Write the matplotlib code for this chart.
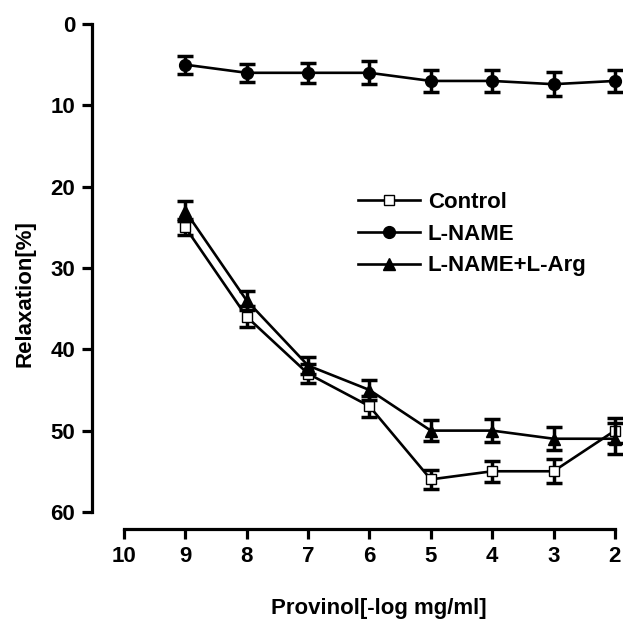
import numpy as np
import matplotlib
matplotlib.use("Agg")
import matplotlib.pyplot as plt

plt.rcParams['font.family'] = ['Liberation Sans', 'DejaVu Sans']
plt.rcParams['font.weight'] = 'bold'

dose = [9, 8, 7, 6, 5, 4, 3, 2]
control = [25, 36, 43, 47, 56, 55, 55, 50]
control_err = [1.0, 1.3, 1.2, 1.3, 1.2, 1.3, 1.5, 1.5]
lname = [5, 6, 6, 6, 7, 7, 7.4, 7]
lname_err = [1.1, 1.1, 1.2, 1.4, 1.3, 1.4, 1.5, 1.3]
larg = [23, 34, 42, 45, 50, 50, 51, 51]
larg_err = [1.2, 1.2, 1.1, 1.2, 1.3, 1.4, 1.4, 1.9]

x_ticks = [10, 9, 8, 7, 6, 5, 4, 3, 2]
y_ticks = [0, 10, 20, 30, 40, 50, 60]

fig = plt.figure(figsize=(6.23, 6.19), dpi=100)
ax = fig.add_axes([0.1477, 0.1454, 0.8393, 0.8158])

series = [
    (control, control_err, 's', 'white', 7, 'Control'),
    (lname, lname_err, 'o', 'black', 8.5, 'L-NAME'),
    (larg, larg_err, '^', 'black', 9, 'L-NAME+L-Arg'),
]
handles = []
for vals, err, mk, fc, ms, lab in series:
    ax.errorbar(dose, vals, yerr=err, fmt='none', ecolor='black',
                elinewidth=2.5, capsize=5.5, capthick=2.5, clip_on=False)
    h, = ax.plot(dose, vals, color='black', lw=1.9, marker=mk, ms=ms,
                 mfc=fc, mec='black', mew=1.0, label=lab, clip_on=False)
    handles.append(h)

ax.set_xlim(10.52, 2)
ax.set_ylim(62.1, 0)
ax.set_xticks(x_ticks)
ax.set_yticks(y_ticks)
ax.spines['top'].set_visible(False)
ax.spines['right'].set_visible(False)
ax.spines['left'].set_bounds(0, 60)
ax.spines['bottom'].set_bounds(10, 2)
for s in ('left', 'bottom'):
    ax.spines[s].set_linewidth(2.3)
ax.tick_params(axis='both', width=2.3, length=7, labelsize=16, pad=5)
for t in ax.get_xticklabels() + ax.get_yticklabels():
    t.set_fontweight('bold')

ax.set_xlabel('Provinol[-log mg/ml]', fontsize=16, fontweight='bold')
ax.xaxis.set_label_coords(0.549, -0.137)
ax.set_ylabel('Relaxation[%]', fontsize=16, fontweight='bold')
ax.yaxis.set_label_coords(-0.109, 0.467)

leg = ax.legend(handles=handles, loc='upper left', bbox_to_anchor=(0.491, 0.685),
                frameon=False, fontsize=16, handlelength=2.8, handletextpad=0.36,
                labelspacing=0.48, borderaxespad=0)
for t in leg.get_texts():
    t.set_fontweight('bold')

fig.savefig('out.png', dpi=100)
